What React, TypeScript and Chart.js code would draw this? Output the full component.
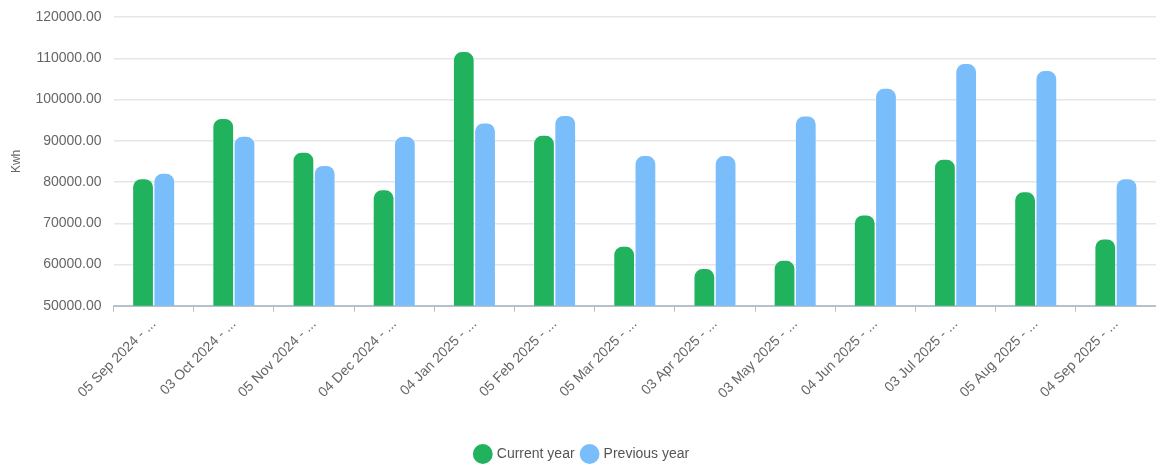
import React, { useEffect, useRef } from "react";
import { Chart, registerables } from "chart.js";

Chart.register(...registerables);

const categories = [
  "05 Sep 2024 - ...",
  "03 Oct 2024 - ...",
  "05 Nov 2024 - ...",
  "04 Dec 2024 - ...",
  "04 Jan 2025 - ...",
  "05 Feb 2025 - ...",
  "05 Mar 2025 - ...",
  "03 Apr 2025 - ...",
  "03 May 2025 - ...",
  "04 Jun 2025 - ...",
  "03 Jul 2025 - ...",
  "05 Aug 2025 - ...",
  "04 Sep 2025 - ...",
];

const currentYear = [80700, 95300, 87100, 78000, 111500, 91200, 64300, 58900, 60900, 71900, 85400, 77500, 66100];
const previousYear = [82000, 91000, 83900, 91000, 94200, 96000, 86300, 86300, 95900, 102600, 108600, 106900, 80700];

const yMin = 50000;
const yMax = 120000;
const yStep = 10000;

const FONT = "'Liberation Sans', Arial, Helvetica, sans-serif";

export default function App() {
  const ref = useRef<HTMLCanvasElement | null>(null);

  useEffect(() => {
    document.body.style.margin = "0";
    if (!ref.current) return;
    const chart = new Chart(ref.current, {
      type: "bar",
      data: {
        labels: categories,
        datasets: [
          {
            label: "Current year",
            data: currentYear,
            backgroundColor: "#21b25e",
            borderRadius: { topLeft: 8, topRight: 8, bottomLeft: 0, bottomRight: 0 },
            borderSkipped: false,
            categoryPercentage: 0.53,
            barPercentage: 0.93,
          },
          {
            label: "Previous year",
            data: previousYear,
            backgroundColor: "#79bdfa",
            borderRadius: { topLeft: 8, topRight: 8, bottomLeft: 0, bottomRight: 0 },
            borderSkipped: false,
            categoryPercentage: 0.53,
            barPercentage: 0.93,
          },
        ],
      },
      options: {
        animation: false,
        responsive: true,
        maintainAspectRatio: false,
        layout: { padding: { top: 0, right: 0, left: 9, bottom: -7 } },
        plugins: {
          tooltip: { enabled: false },
          legend: {
            position: "bottom",
            labels: {
              usePointStyle: true,
              pointStyle: "circle",
              boxWidth: 14,
              boxHeight: 14,
              padding: 8,
              color: "#555",
              font: { family: FONT, size: 14 },
            },
          },
        },
        scales: {
          x: {
            offset: true,
            grid: {
              offset: true,
              drawOnChartArea: false,
              drawTicks: true,
              tickLength: 6,
              color: "#b4c2cc",
            },
            border: { display: true, color: "#b4c2cc", width: 2 },
            ticks: {
              maxRotation: 45,
              minRotation: 45,
              autoSkip: false,
              color: "#666",
              padding: 4,
              font: { family: FONT, size: 14 },
            },
            title: {
              display: true,
              text: " ",
              font: { family: FONT, size: 10 },
              padding: { top: 0, bottom: 21 },
            },
          },
          y: {
            min: yMin,
            max: yMax,
            afterFit: (scale: any) => {
              scale.paddingTop = 17;
            },
            grid: { color: "#e6e6e6", lineWidth: 1.5, drawTicks: false },
            border: { display: false },
            title: {
              display: true,
              text: "Kwh",
              color: "#666",
              font: { family: FONT, size: 12 },
              padding: { top: 0, bottom: 0 },
            },
            ticks: {
              stepSize: yStep,
              color: "#666",
              padding: 12,
              font: { family: FONT, size: 14 },
              callback: (v: any) => Number(v).toFixed(2),
            },
          },
        },
      },
    });
    return () => chart.destroy();
  }, []);

  return (
    <div style={{ width: 1156, height: 464, position: "relative" }}>
      <canvas ref={ref} />
    </div>
  );
}
